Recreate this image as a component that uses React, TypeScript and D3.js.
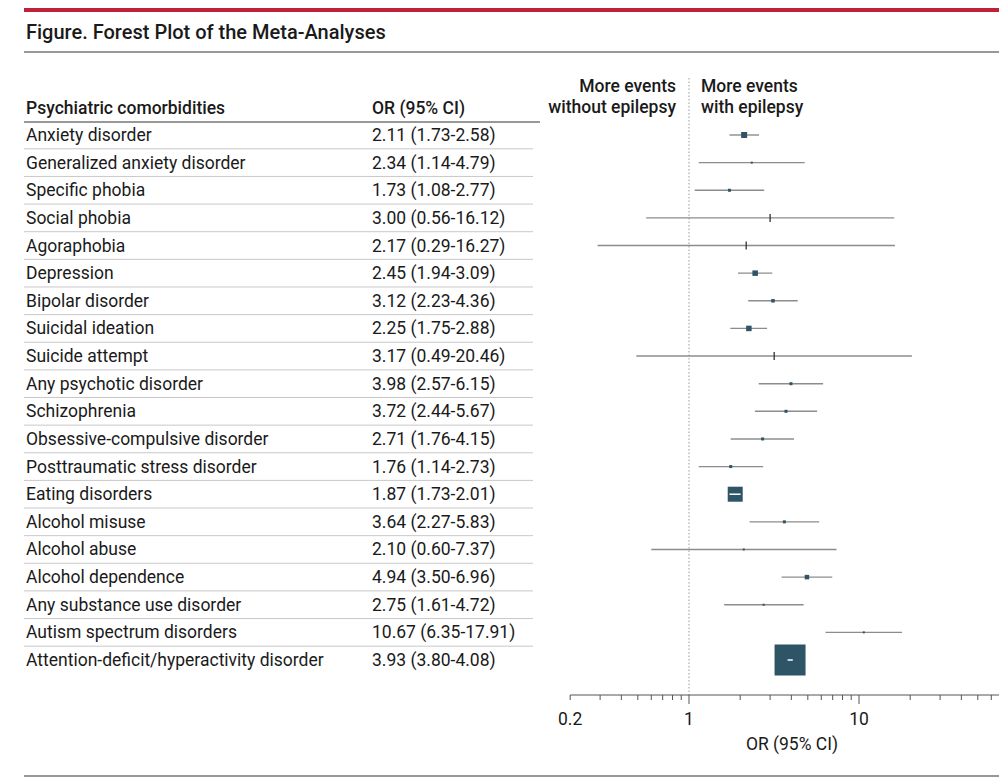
import * as d3 from 'd3'

const conditions = [
  'Anxiety disorder', 'Generalized anxiety disorder', 'Specific phobia', 'Social phobia',
  'Agoraphobia', 'Depression', 'Bipolar disorder', 'Suicidal ideation', 'Suicide attempt',
  'Any psychotic disorder', 'Schizophrenia', 'Obsessive-compulsive disorder',
  'Posttraumatic stress disorder', 'Eating disorders', 'Alcohol misuse', 'Alcohol abuse',
  'Alcohol dependence', 'Any substance use disorder', 'Autism spectrum disorders',
  'Attention-deficit/hyperactivity disorder',
]
const orValues = [2.11, 2.34, 1.73, 3.0, 2.17, 2.45, 3.12, 2.25, 3.17, 3.98, 3.72, 2.71, 1.76, 1.87, 3.64, 2.1, 4.94, 2.75, 10.67, 3.93]
const ciLow = [1.73, 1.14, 1.08, 0.56, 0.29, 1.94, 2.23, 1.75, 0.49, 2.57, 2.44, 1.76, 1.14, 1.73, 2.27, 0.6, 3.5, 1.61, 6.35, 3.8]
const ciHigh = [2.58, 4.79, 2.77, 16.12, 16.27, 3.09, 4.36, 2.88, 20.46, 6.15, 5.67, 4.15, 2.73, 2.01, 5.83, 7.37, 6.96, 4.72, 17.91, 4.08]
// relative study weight
const weights = [6, 2, 3, 1, 1, 5.5, 3.5, 5.5, 1, 3, 3, 3, 3, 15, 3, 2, 4.5, 2, 2, 31]
const tickMarkers = ['Social phobia', 'Agoraphobia', 'Suicide attempt']
const axisLabels = [0.2, 1, 10]

const W = 999
const H = 784
const FONT = 'Roboto, "Noto Sans", sans-serif'
const BOX = '#2e5566'
const FS = 17.5

export default function App() {
  const x = d3.scaleLog().domain([1, 10]).range([689, 859])
  const rowY = d3.scaleLinear().domain([0, conditions.length - 1]).range([135, 660])
  const rowStep = rowY(1) - rowY(0)
  const axisY = 695
  const ticks: number[] = []
  for (let d = 0.2; d < 0.95; d += 0.1) ticks.push(+d.toFixed(1))
  for (let d = 1; d <= 9; d++) ticks.push(d)
  for (let d = 10; d <= 90; d += 10) ticks.push(d)
  const visibleTicks = ticks.filter((t) => x(t) <= W + 1)
  const txt = { fontFamily: FONT, fill: '#1a1a1a' }

  return (
    <svg width={W} height={H} style={{ position: 'absolute', left: 0, top: 0 }}>
      <rect width={W} height={H} fill="#fff" />
      <rect x={24} y={8} width={W - 24} height={4} fill="#c0203a" />
      <text x={26} y={39} style={{ ...txt, fontSize: 20, fontWeight: 500 }}>
        Figure. Forest Plot of the Meta-Analyses
      </text>
      <line x1={24} x2={W} y1={52} y2={52} stroke="#333" strokeWidth={1.2} />

      {/* table header */}
      <text x={26} y={114} style={{ ...txt, fontSize: FS, fontWeight: 500 }}>Psychiatric comorbidities</text>
      <text x={372} y={114} style={{ ...txt, fontSize: FS, fontWeight: 500 }}>OR (95% CI)</text>
      <line x1={24} x2={540} y1={122} y2={122} stroke="#333" strokeWidth={1.2} />

      <text x={676} y={92} textAnchor="end" style={{ ...txt, fontSize: FS, fontWeight: 500 }}>More events</text>
      <text x={676} y={113} textAnchor="end" style={{ ...txt, fontSize: FS, fontWeight: 500 }}>without epilepsy</text>
      <text x={701} y={92} style={{ ...txt, fontSize: FS, fontWeight: 500 }}>More events</text>
      <text x={701} y={113} style={{ ...txt, fontSize: FS, fontWeight: 500 }}>with epilepsy</text>

      {/* rows */}
      {conditions.map((c, i) => {
        const y = rowY(i)
        return (
          <g key={c}>
            <text x={26} y={y + 6} style={{ ...txt, fontSize: FS }}>{c}</text>
            <text x={372} y={y + 6} style={{ ...txt, fontSize: FS }}>
              {`${orValues[i].toFixed(2)} (${ciLow[i].toFixed(2)}-${ciHigh[i].toFixed(2)})`}
            </text>
            {i < conditions.length - 1 && (
              <line x1={24} x2={533} y1={y + rowStep / 2} y2={y + rowStep / 2} stroke="#c8c8c8" strokeWidth={1} />
            )}
          </g>
        )
      })}

      {/* reference line */}
      <line x1={x(1)} x2={x(1)} y1={78} y2={axisY} stroke="#999" strokeWidth={1} strokeDasharray="1.5,2" />

      {/* CIs and markers */}
      {conditions.map((c, i) => {
        const y = rowY(i)
        const cx = x(orValues[i])
        const s = weights[i]
        const inside = s > 10
        return (
          <g key={c}>
            {!inside && (
              <line x1={x(ciLow[i])} x2={x(ciHigh[i])} y1={y} y2={y} stroke="#8c8c8c" strokeWidth={1.4} />
            )}
            {tickMarkers.includes(c) ? (
              <line x1={cx} x2={cx} y1={y - 4} y2={y + 4} stroke="#333" strokeWidth={1.3} />
            ) : (
              <rect x={cx - s / 2} y={y - s / 2} width={s} height={s} fill={BOX} />
            )}
            {inside && (
              <line x1={x(ciLow[i])} x2={x(ciHigh[i])} y1={y} y2={y} stroke="#fff" strokeWidth={1.5} />
            )}
          </g>
        )
      })}

      {/* axis */}
      <line x1={x(0.2)} x2={W} y1={axisY} y2={axisY} stroke="#555" strokeWidth={1} />
      {visibleTicks.map((t) => {
        const major = t === 1 || t === 10
        return (
          <line key={t} x1={x(t)} x2={x(t)} y1={axisY} y2={axisY + (major ? 9 : 5)} stroke="#555" strokeWidth={1} />
        )
      })}
      {axisLabels.map((t) => (
        <text key={t} x={x(t)} y={725} textAnchor="middle" style={{ ...txt, fontSize: FS }}>{String(t)}</text>
      ))}
      <text x={792} y={750} textAnchor="middle" style={{ ...txt, fontSize: FS }}>OR (95% CI)</text>

      <line x1={24} x2={W} y1={776} y2={776} stroke="#333" strokeWidth={1.2} />
    </svg>
  )
}
